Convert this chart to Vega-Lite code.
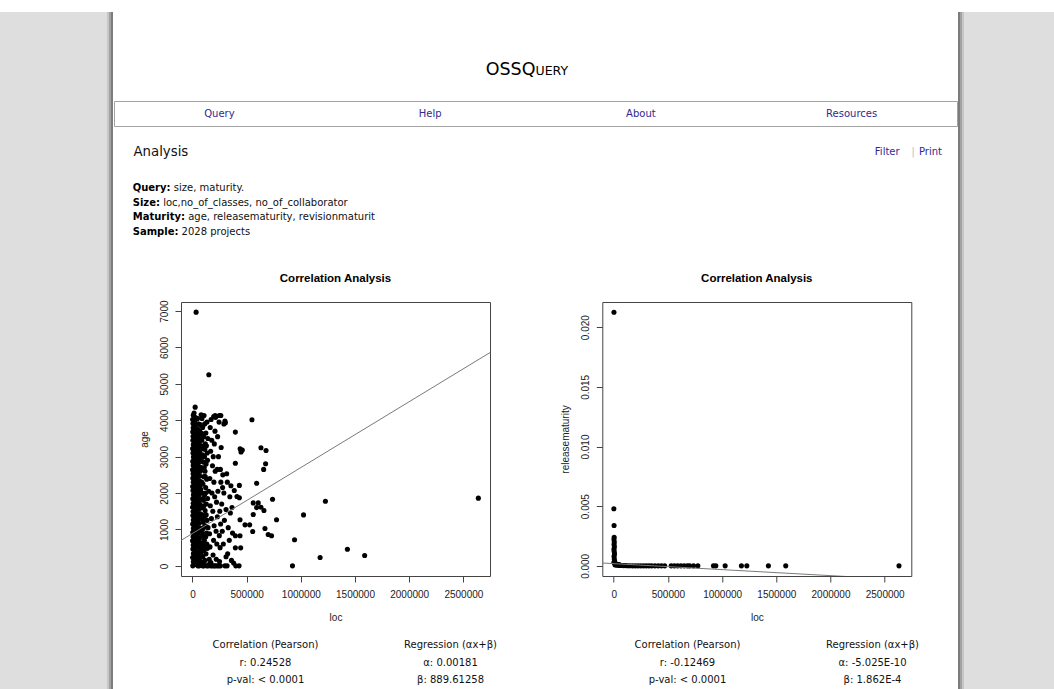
{
  "$schema": "https://vega.github.io/schema/vega-lite/v6.json",
  "background": "white",
  "padding": 0,
  "spacing": 0,
  "config": {
    "view": {"stroke": null},
    "font": "DejaVu Sans",
    "text": {"font": "DejaVu Sans", "fontSize": 10, "baseline": "middle", "color": "#111"},
    "axis": {
      "domain": false, "grid": false, "ticks": true, "tickSize": 6, "tickColor": "#444", "tickWidth": 1,
      "labelFont": "Liberation Sans", "labelFontSize": 10, "labelColor": "#222", "labelFlush": false, "labelOverlap": false, "labelSeparation": 0,
      "titleFont": "Liberation Sans", "titleFontSize": 10, "titleFontWeight": "normal", "titleColor": "#222"
    }
  },
  "datasets": {
    "blank": [{}],
    "brand": [{"part": "OSSQ"}, {"part": "UERY"}],
    "nav": [{"item": "Query"}, {"item": "Help"}, {"item": "About"}, {"item": "Resources"}],
    "topbar": [
      {"slot": "left", "kind": "title", "text": "Analysis"},
      {"slot": "right", "kind": "filter", "text": "Filter"},
      {"slot": "right", "kind": "sep", "text": "|"},
      {"slot": "right", "kind": "print", "text": "Print"}
    ],
    "query": [
      {"slot": "left", "key": "Query", "label": "Query:", "value": "size, maturity."},
      {"slot": "left", "key": "Size", "label": "Size:", "value": "loc,no_of_classes, no_of_collaborator"},
      {"slot": "left", "key": "Maturity", "label": "Maturity:", "value": "age, releasematurity, revisionmaturit"},
      {"slot": "left", "key": "Sample", "label": "Sample:", "value": "2028 projects"}
    ],
    "statsL": [
      {"col": "c", "line": 1, "text": "Correlation (Pearson)"},
      {"col": "c", "line": 2, "text": "r: 0.24528"},
      {"col": "c", "line": 3, "text": "p-val: < 0.0001"},
      {"col": "r", "line": 1, "text": "Regression (αx+β)"},
      {"col": "r", "line": 2, "text": "α: 0.00181"},
      {"col": "r", "line": 3, "text": "β: 889.61258"}
    ],
    "statsR": [
      {"col": "c", "line": 1, "text": "Correlation (Pearson)"},
      {"col": "c", "line": 2, "text": "r: -0.12469"},
      {"col": "c", "line": 3, "text": "p-val: < 0.0001"},
      {"col": "r", "line": 1, "text": "Regression (αx+β)"},
      {"col": "r", "line": 2, "text": "α: -5.025E-10"},
      {"col": "r", "line": 3, "text": "β: 1.862E-4"}
    ],
    "ageFit": [{"loc": -105600, "age": 698.5}, {"loc": 2745600, "age": 5859.1}],
    "relFit": [{"loc": -105600, "rm": 0.0002393}, {"loc": 2745600, "rm": -0.0011935}],
    "age": [
      {"loc":3000,"age":0},{"loc":8000,"age":110},{"loc":2000,"age":230},{"loc":9000,"age":340},{"loc":4000,"age":460},{"loc":7000,"age":570},{"loc":1000,"age":690},{"loc":6000,"age":800},{"loc":3000,"age":920},{"loc":9000,"age":1030},{"loc":2000,"age":1150},{"loc":8000,"age":1260},{"loc":4000,"age":1380},{"loc":6000,"age":1490},{"loc":1000,"age":1610},{"loc":7000,"age":1720},{"loc":3000,"age":1840},{"loc":9000,"age":1950},{"loc":5000,"age":2070},{"loc":2000,"age":2180},{"loc":8000,"age":2300},{"loc":4000,"age":2410},{"loc":6000,"age":2530},{"loc":1000,"age":2640},{"loc":7000,"age":2760},{"loc":3000,"age":2870},{"loc":9000,"age":2990},{"loc":5000,"age":3100},{"loc":2000,"age":3220},{"loc":8000,"age":3330},{"loc":4000,"age":3450},{"loc":6000,"age":3560},{"loc":3000,"age":3680},{"loc":7000,"age":3790},{"loc":5000,"age":3910},{"loc":2000,"age":4020},{"loc":8000,"age":4140},
      {"loc":18000,"age":60},{"loc":21000,"age":190},{"loc":16000,"age":320},{"loc":20000,"age":450},{"loc":17000,"age":580},{"loc":22000,"age":710},{"loc":19000,"age":840},{"loc":16000,"age":970},{"loc":21000,"age":1100},{"loc":18000,"age":1230},{"loc":20000,"age":1360},{"loc":17000,"age":1490},{"loc":22000,"age":1620},{"loc":19000,"age":1750},{"loc":16000,"age":1880},{"loc":21000,"age":2010},{"loc":18000,"age":2140},{"loc":20000,"age":2270},{"loc":17000,"age":2400},{"loc":22000,"age":2530},{"loc":19000,"age":2660},{"loc":16000,"age":2790},{"loc":21000,"age":2920},{"loc":18000,"age":3050},{"loc":20000,"age":3180},{"loc":17000,"age":3310},{"loc":22000,"age":3440},{"loc":19000,"age":3570},{"loc":16000,"age":3700},{"loc":21000,"age":3830},{"loc":18000,"age":3960},{"loc":20000,"age":4090},{"loc":15000,"age":4200},
      {"loc":32000,"age":40},{"loc":38000,"age":160},{"loc":41000,"age":280},{"loc":30000,"age":400},{"loc":36000,"age":520},{"loc":40000,"age":640},{"loc":33000,"age":760},{"loc":39000,"age":880},{"loc":31000,"age":1000},{"loc":37000,"age":1120},{"loc":42000,"age":1240},{"loc":34000,"age":1360},{"loc":30000,"age":1480},{"loc":38000,"age":1600},{"loc":35000,"age":1720},{"loc":41000,"age":1840},{"loc":32000,"age":1960},{"loc":36000,"age":2080},{"loc":40000,"age":2200},{"loc":33000,"age":2320},{"loc":39000,"age":2440},{"loc":31000,"age":2560},{"loc":37000,"age":2680},{"loc":42000,"age":2800},{"loc":34000,"age":2920},{"loc":30000,"age":3040},{"loc":38000,"age":3160},{"loc":35000,"age":3280},{"loc":41000,"age":3400},{"loc":32000,"age":3520},{"loc":36000,"age":3640},{"loc":39000,"age":3760},{"loc":33000,"age":3900},{"loc":37000,"age":4060},{"loc":25000,"age":4360},{"loc":34000,"age":6970},
      {"loc":50000,"age":0},{"loc":54000,"age":120},{"loc":48000,"age":250},{"loc":52000,"age":380},{"loc":56000,"age":510},{"loc":49000,"age":640},{"loc":53000,"age":770},{"loc":51000,"age":900},{"loc":55000,"age":1030},{"loc":48000,"age":1160},{"loc":52000,"age":1290},{"loc":56000,"age":1420},{"loc":50000,"age":1550},{"loc":54000,"age":1680},{"loc":49000,"age":1810},{"loc":53000,"age":1940},{"loc":51000,"age":2070},{"loc":55000,"age":2200},{"loc":48000,"age":2330},{"loc":52000,"age":2460},{"loc":56000,"age":2590},{"loc":50000,"age":2720},{"loc":54000,"age":2850},{"loc":49000,"age":2980},{"loc":53000,"age":3110},{"loc":51000,"age":3240},{"loc":55000,"age":3370},{"loc":48000,"age":3500},{"loc":52000,"age":3630},{"loc":50000,"age":3760},{"loc":54000,"age":3900},{"loc":47000,"age":4050},
      {"loc":62000,"age":0},{"loc":70000,"age":130},{"loc":66000,"age":260},{"loc":74000,"age":390},{"loc":61000,"age":520},{"loc":68000,"age":650},{"loc":72000,"age":780},{"loc":64000,"age":910},{"loc":70000,"age":1040},{"loc":60000,"age":1170},{"loc":67000,"age":1300},{"loc":73000,"age":1430},{"loc":63000,"age":1560},{"loc":69000,"age":1690},{"loc":75000,"age":1820},{"loc":61000,"age":1950},{"loc":66000,"age":2080},{"loc":71000,"age":2210},{"loc":64000,"age":2340},{"loc":68000,"age":2470},{"loc":73000,"age":2600},{"loc":62000,"age":2730},{"loc":67000,"age":2860},{"loc":70000,"age":2990},{"loc":65000,"age":3120},{"loc":72000,"age":3260},{"loc":63000,"age":3400},{"loc":69000,"age":3550},{"loc":66000,"age":3700},{"loc":71000,"age":3880},
      {"loc":82000,"age":300},{"loc":84000,"age":900},{"loc":83000,"age":1600},{"loc":85000,"age":2300},{"loc":81000,"age":2900},{"loc":84000,"age":3300},{"loc":83000,"age":3650},{"loc":78000,"age":500},{"loc":79000,"age":1300},{"loc":77000,"age":2100},{"loc":80000,"age":2700},{"loc":78000,"age":3200},{"loc":100000,"age":100},{"loc":103000,"age":1050},{"loc":96000,"age":1850},{"loc":109000,"age":2700},{"loc":114000,"age":3200},{"loc":121000,"age":2000},{"loc":127000,"age":1400},{"loc":133000,"age":600},{"loc":139000,"age":2900},{"loc":142000,"age":3500},{"loc":97000,"age":450},{"loc":112000,"age":550},{"loc":123000,"age":800},{"loc":106000,"age":1650},{"loc":118000,"age":2450},{"loc":129000,"age":3300},{"loc":134000,"age":3950},{"loc":144000,"age":1050},
      {"loc":95000,"age":0},{"loc":105000,"age":0},{"loc":170000,"age":0},{"loc":200000,"age":0},{"loc":230000,"age":0},{"loc":258000,"age":0},
      {"loc":88000,"age":60},{"loc":95000,"age":250},{"loc":105000,"age":420},{"loc":90000,"age":600},{"loc":115000,"age":150},{"loc":100000,"age":820},{"loc":125000,"age":330},{"loc":92000,"age":1000},{"loc":110000,"age":700},{"loc":130000,"age":900},{"loc":98000,"age":1200},{"loc":120000,"age":1100},{"loc":87000,"age":1400},{"loc":108000,"age":1330},{"loc":135000,"age":1250},{"loc":94000,"age":1600},{"loc":117000,"age":1520},{"loc":102000,"age":1800},{"loc":128000,"age":1700},{"loc":89000,"age":2000},{"loc":112000,"age":1950},{"loc":140000,"age":1850},{"loc":97000,"age":2250},{"loc":122000,"age":2150},{"loc":106000,"age":2450},{"loc":131000,"age":2380},{"loc":91000,"age":2650},{"loc":116000,"age":2600},{"loc":101000,"age":2850},{"loc":126000,"age":2800},{"loc":93000,"age":3050},{"loc":111000,"age":3000},{"loc":136000,"age":3100},{"loc":99000,"age":3250},{"loc":119000,"age":3350},{"loc":86000,"age":3450},{"loc":104000,"age":3550},{"loc":124000,"age":3650},{"loc":94000,"age":3800},{"loc":113000,"age":3900},{"loc":88000,"age":4050},{"loc":107000,"age":4130},{"loc":80000,"age":4150},{"loc":145000,"age":0},{"loc":138000,"age":480},{"loc":150000,"age":2050},{"loc":118000,"age":10},{"loc":132000,"age":0},
      {"loc":151000,"age":5250},{"loc":155000,"age":180},{"loc":162000,"age":520},{"loc":170000,"age":90},{"loc":158000,"age":880},{"loc":175000,"age":1300},{"loc":165000,"age":1650},{"loc":180000,"age":2000},{"loc":160000,"age":2400},{"loc":185000,"age":2750},{"loc":168000,"age":3150},{"loc":178000,"age":3450},{"loc":164000,"age":3800},{"loc":172000,"age":4020},{"loc":190000,"age":300},{"loc":195000,"age":700},{"loc":200000,"age":1100},{"loc":188000,"age":1500},{"loc":205000,"age":1900},{"loc":198000,"age":2300},{"loc":210000,"age":2600},{"loc":192000,"age":3000},{"loc":202000,"age":3350},{"loc":208000,"age":3700},{"loc":196000,"age":4100},{"loc":214000,"age":4080},{"loc":220000,"age":180},{"loc":225000,"age":600},{"loc":218000,"age":950},{"loc":230000,"age":1350},{"loc":222000,"age":1750},{"loc":235000,"age":2050},{"loc":228000,"age":2650},{"loc":240000,"age":3000},{"loc":232000,"age":3550},{"loc":245000,"age":3950},{"loc":250000,"age":120},{"loc":255000,"age":500},{"loc":248000,"age":830},{"loc":260000,"age":1150},{"loc":252000,"age":1500},{"loc":262000,"age":2300},{"loc":258000,"age":2650},{"loc":244000,"age":0},{"loc":212000,"age":0},{"loc":185000,"age":0},{"loc":160000,"age":60},{"loc":262000,"age":4130},{"loc":248000,"age":4130},{"loc":209000,"age":4130},
      {"loc":270000,"age":1700},{"loc":275000,"age":950},{"loc":280000,"age":2500},{"loc":285000,"age":600},{"loc":290000,"age":3900},{"loc":295000,"age":1250},{"loc":300000,"age":3980},{"loc":304000,"age":3930},{"loc":310000,"age":250},{"loc":316000,"age":2530},{"loc":322000,"age":2300},{"loc":325000,"age":330},{"loc":330000,"age":1050},{"loc":340000,"age":700},{"loc":350000,"age":1450},{"loc":360000,"age":150},{"loc":370000,"age":900},{"loc":300000,"age":0},{"loc":320000,"age":0},{"loc":380000,"age":80},{"loc":386000,"age":2070},{"loc":396000,"age":3675},{"loc":396000,"age":2820},{"loc":396000,"age":825},{"loc":396000,"age":495},{"loc":411000,"age":1905},{"loc":400000,"age":0},{"loc":430000,"age":0},{"loc":433000,"age":2210},{"loc":433000,"age":1870},{"loc":439000,"age":1265},{"loc":439000,"age":825},{"loc":445000,"age":495},{"loc":440000,"age":3217},{"loc":448000,"age":3130},{"loc":460000,"age":3180},{"loc":265000,"age":3250},{"loc":278000,"age":2150},{"loc":345000,"age":1900},{"loc":355000,"age":2200},{"loc":365000,"age":1600},{"loc":290000,"age":2000},{"loc":310000,"age":1550},
      {"loc":485000,"age":1127},{"loc":528000,"age":1127},{"loc":549000,"age":4015},{"loc":556000,"age":943},{"loc":561000,"age":1730},{"loc":561000,"age":1410},{"loc":592000,"age":2270},{"loc":592000,"age":1600},{"loc":607000,"age":1730},{"loc":632000,"age":3245},{"loc":632000,"age":1610},{"loc":657000,"age":2650},{"loc":660000,"age":1520},{"loc":669000,"age":1025},{"loc":675000,"age":2805},{"loc":679000,"age":3170},{"loc":699000,"age":860},{"loc":730000,"age":825},{"loc":739000,"age":1830},{"loc":776000,"age":1265},{"loc":923000,"age":0},{"loc":942000,"age":715},{"loc":1025000,"age":1400},{"loc":1178000,"age":228},{"loc":1227000,"age":1775},{"loc":1430000,"age":456},{"loc":1589000,"age":283},{"loc":2638000,"age":1860}
    ],
    "rel": [
      {"loc":2000,"rm":0.02125},{"loc":1000,"rm":0.00478},{"loc":3000,"rm":0.00338},{"loc":4000,"rm":0.0024},{"loc":2000,"rm":0.0022},{"loc":5000,"rm":0.002},{"loc":3000,"rm":0.0018},{"loc":6000,"rm":0.0016},{"loc":2000,"rm":0.0014},{"loc":4000,"rm":0.0012},{"loc":7000,"rm":0.001},{"loc":3000,"rm":0.0008},{"loc":5000,"rm":0.0006},{"loc":8000,"rm":0.0004},{"loc":2000,"rm":0.0003},{"loc":10000,"rm":0.0002},{"loc":12000,"rm":0.0001},
      {"loc":20000,"rm":0.00015},{"loc":35000,"rm":0.00012},{"loc":50000,"rm":0.0001},
      {"loc":15000,"rm":0.0001},{"loc":25000,"rm":0.00008},{"loc":40000,"rm":0.00005},{"loc":55000,"rm":0.00004},{"loc":70000,"rm":0.00003},{"loc":90000,"rm":0.00002},{"loc":110000,"rm":0.00002},{"loc":130000,"rm":0.00001},{"loc":150000,"rm":0.00001},{"loc":175000,"rm":0},{"loc":200000,"rm":0},{"loc":225000,"rm":0},{"loc":250000,"rm":0},{"loc":275000,"rm":0},{"loc":300000,"rm":0},{"loc":325000,"rm":0},{"loc":350000,"rm":0},{"loc":380000,"rm":0},{"loc":410000,"rm":0},{"loc":440000,"rm":0},{"loc":470000,"rm":0},{"loc":530000,"rm":0},{"loc":560000,"rm":0},{"loc":590000,"rm":0},{"loc":620000,"rm":0},{"loc":650000,"rm":0},{"loc":680000,"rm":0},{"loc":700000,"rm":0},{"loc":736000,"rm":0},{"loc":776000,"rm":0},{"loc":920000,"rm":0},{"loc":942000,"rm":0},{"loc":1028000,"rm":0},{"loc":1178000,"rm":0},{"loc":1228000,"rm":0},{"loc":1427000,"rm":0},{"loc":1587000,"rm":0},{"loc":2632000,"rm":0}
    ]
  },
  "vconcat": [
    {"width": 1, "height": 12, "data": {"name": "blank"}, "mark": "text", "encoding": {"text": {"value": ""}}},
    {
      "spacing": 0,
      "hconcat": [
        {"width": 107, "height": 677, "view": {"fill": "#dedede"}, "data": {"name": "blank"}, "mark": "text", "encoding": {"text": {"value": ""}}},
        {"width": 2, "height": 677, "view": {"fill": "#c6c6c6"}, "data": {"name": "blank"}, "mark": "text", "encoding": {"text": {"value": ""}}},
        {"width": 2, "height": 677, "view": {"fill": "#a2a2a2"}, "data": {"name": "blank"}, "mark": "text", "encoding": {"text": {"value": ""}}},
        {"width": 2, "height": 677, "view": {"fill": "#7c7c7c"}, "data": {"name": "blank"}, "mark": "text", "encoding": {"text": {"value": ""}}},
        {
          "spacing": 0,
          "vconcat": [
            {
              "width": 843, "height": 88,
              "data": {"name": "brand"},
              "layer": [
                {"transform": [{"filter": "datum.part === 'OSSQ'"}], "mark": {"type": "text", "align": "right", "baseline": "alphabetic", "fontSize": 17.5, "dy": 19, "color": "#000"}, "encoding": {"text": {"field": "part"}}},
                {"transform": [{"filter": "datum.part === 'UERY'"}], "mark": {"type": "text", "align": "left", "baseline": "alphabetic", "fontSize": 12.5, "dy": 19, "color": "#000"}, "encoding": {"text": {"field": "part"}}}
              ]
            },
            {
              "width": 843, "height": 25,
              "view": {"stroke": "#a3a3a3", "strokeWidth": 1},
              "data": {"name": "nav"},
              "mark": {"type": "text", "fontSize": 10, "color": "#2f2a8f"},
              "encoding": {
                "x": {"field": "item", "type": "nominal", "sort": null, "axis": null, "scale": {"type": "point", "padding": 0.5}},
                "text": {"field": "item"}
              }
            },
            {
              "width": 843, "height": 54.75,
              "data": {"name": "topbar"},
              "encoding": {
                "x": {"field": "slot", "type": "nominal", "axis": null, "scale": {"type": "point", "domain": ["left", "right"], "padding": 0}},
                "text": {"field": "text"}
              },
              "layer": [
                {"transform": [{"filter": "datum.kind === 'title'"}], "mark": {"type": "text", "align": "left", "fontSize": 13.3, "dx": 19.5, "dy": -2.4, "color": "#111"}},
                {"transform": [{"filter": "datum.kind === 'filter'"}], "mark": {"type": "text", "align": "right", "fontSize": 10, "dx": -57.4, "dy": -2.4, "color": "#2f2a8f"}},
                {"transform": [{"filter": "datum.kind === 'sep'"}], "mark": {"type": "text", "align": "center", "fontSize": 11, "dx": -44, "dy": -2.4, "color": "#c4c4c4"}},
                {"transform": [{"filter": "datum.kind === 'print'"}], "mark": {"type": "text", "align": "right", "fontSize": 10, "dx": -15, "dy": -2.4, "color": "#2f2a8f"}}
              ]
            },
            {
              "width": 843, "height": 58,
              "data": {"name": "query"},
              "encoding": {
                "x": {"field": "slot", "type": "nominal", "axis": null, "scale": {"type": "point", "domain": ["left", "right"], "padding": 0}},
                "y": {"field": "key", "type": "nominal", "sort": null, "axis": null, "scale": {"type": "point", "padding": 0.5}}
              },
              "layer": [
                {"mark": {"type": "text", "align": "left", "fontWeight": "bold", "dx": 18.7, "dy": -1, "color": "#000"}, "encoding": {"text": {"field": "label"}}},
                {"transform": [{"filter": "datum.key === 'Query'"}], "mark": {"type": "text", "align": "left", "dx": 59.8, "dy": -1, "color": "#111"}, "encoding": {"text": {"field": "value"}}},
                {"transform": [{"filter": "datum.key === 'Size'"}], "mark": {"type": "text", "align": "left", "dx": 49.2, "dy": -1, "color": "#111"}, "encoding": {"text": {"field": "value"}}},
                {"transform": [{"filter": "datum.key === 'Maturity'"}], "mark": {"type": "text", "align": "left", "dx": 74.2, "dy": -1, "color": "#111"}, "encoding": {"text": {"field": "value"}}},
                {"transform": [{"filter": "datum.key === 'Sample'"}], "mark": {"type": "text", "align": "left", "dx": 67.6, "dy": -1, "color": "#111"}, "encoding": {"text": {"field": "value"}}}
              ]
            },
            {"width": 1, "height": 32, "data": {"name": "blank"}, "mark": "text", "encoding": {"text": {"value": ""}}},
            {
              "spacing": 0,
              "hconcat": [
                {"width": 24, "height": 1, "data": {"name": "blank"}, "mark": "text", "encoding": {"text": {"value": ""}}},
                {
                  "spacing": 68.3,
                  "hconcat": [
                    {
                      "width": 309, "height": 274,
                      "view": {"stroke": "#444", "strokeWidth": 1},
                      "title": {"text": "Correlation Analysis", "font": "Liberation Sans", "fontSize": 11.5, "fontWeight": "bold", "color": "#000", "frame": "group", "anchor": "middle", "offset": 6.5, "baseline": "alphabetic"},
                      "encoding": {
                        "x": {"field": "loc", "type": "quantitative", "scale": {"domain": [-105600, 2745600], "nice": false, "zero": false},
                              "axis": {"title": "loc", "values": [0, 500000, 1000000, 1500000, 2000000, 2500000], "format": "d", "labelPadding": 7, "titlePadding": 13, "labelOverlap": false}},
                        "y": {"field": "age", "type": "quantitative", "scale": {"domain": [-279, 7249], "nice": false, "zero": false},
                              "axis": {"title": "age", "values": [0, 1000, 2000, 3000, 4000, 5000, 6000, 7000], "format": "d", "labelAngle": 270, "labelAlign": "center", "labelBaseline": "alphabetic", "labelPadding": 8, "titlePadding": 10, "labelOverlap": false, "labelSeparation": 0}}
                      },
                      "layer": [
                        {"data": {"name": "age"}, "mark": {"type": "circle", "size": 26, "color": "#000", "opacity": 1}},
                        {"data": {"name": "ageFit"}, "mark": {"type": "line", "color": "#7a7a7a", "strokeWidth": 1, "clip": true}}
                      ]
                    },
                    {
                      "width": 309, "height": 274,
                      "view": {"stroke": "#444", "strokeWidth": 1},
                      "title": {"text": "Correlation Analysis", "font": "Liberation Sans", "fontSize": 11.5, "fontWeight": "bold", "color": "#000", "frame": "group", "anchor": "middle", "offset": 8.5, "baseline": "alphabetic"},
                      "encoding": {
                        "x": {"field": "loc", "type": "quantitative", "scale": {"domain": [-105600, 2745600], "nice": false, "zero": false},
                              "axis": {"title": "loc", "values": [0, 500000, 1000000, 1500000, 2000000, 2500000], "format": "d", "labelPadding": 7, "titlePadding": 13, "labelOverlap": false}},
                        "y": {"field": "rm", "type": "quantitative", "scale": {"domain": [-0.00085, 0.02211], "nice": false, "zero": false},
                              "axis": {"title": "releasematurity", "values": [0, 0.005, 0.01, 0.015, 0.02], "format": ".3f", "labelAngle": 270, "labelAlign": "center", "labelBaseline": "alphabetic", "labelPadding": 8, "titlePadding": 10, "labelOverlap": false, "labelSeparation": 0}}
                      },
                      "layer": [
                        {"data": {"name": "rel"}, "mark": {"type": "circle", "size": 26, "color": "#000", "opacity": 1}},
                        {"data": {"name": "relFit"}, "mark": {"type": "line", "color": "#7a7a7a", "strokeWidth": 1, "clip": true}}
                      ]
                    }
                  ]
                }
              ]
            },
            {"width": 1, "height": 7.5, "data": {"name": "blank"}, "mark": {"type": "text", "fontSize": 0}, "encoding": {"text": {"value": ""}}},
            {
              "spacing": 0,
              "hconcat": [
                {"width": 93.5, "height": 1, "data": {"name": "blank"}, "mark": "text", "encoding": {"text": {"value": ""}}},
                {
                  "spacing": 122,
                  "hconcat": [
                    {
                      "width": 300, "height": 53.25,
                      "data": {"name": "statsL"},
                      "mark": {"type": "text", "fontSize": 10, "color": "#111"},
                      "encoding": {
                        "x": {"field": "col", "type": "nominal", "sort": null, "axis": null, "scale": {"type": "point", "domain": ["c", "r"], "padding": 0.3108}},
                        "y": {"field": "line", "type": "ordinal", "axis": null, "scale": {"type": "point", "padding": 0.5}},
                        "text": {"field": "text"}
                      }
                    },
                    {
                      "width": 300, "height": 53.25,
                      "data": {"name": "statsR"},
                      "mark": {"type": "text", "fontSize": 10, "color": "#111"},
                      "encoding": {
                        "x": {"field": "col", "type": "nominal", "sort": null, "axis": null, "scale": {"type": "point", "domain": ["c", "r"], "padding": 0.3108}},
                        "y": {"field": "line", "type": "ordinal", "axis": null, "scale": {"type": "point", "padding": 0.5}},
                        "text": {"field": "text"}
                      }
                    }
                  ]
                }
              ]
            }
          ]
        },
        {"width": 2, "height": 677, "view": {"fill": "#7c7c7c"}, "data": {"name": "blank"}, "mark": "text", "encoding": {"text": {"value": ""}}},
        {"width": 2, "height": 677, "view": {"fill": "#a2a2a2"}, "data": {"name": "blank"}, "mark": "text", "encoding": {"text": {"value": ""}}},
        {"width": 2, "height": 677, "view": {"fill": "#c6c6c6"}, "data": {"name": "blank"}, "mark": "text", "encoding": {"text": {"value": ""}}},
        {"width": 92, "height": 677, "view": {"fill": "#dedede"}, "data": {"name": "blank"}, "mark": "text", "encoding": {"text": {"value": ""}}}
      ]
    }
  ]
}
